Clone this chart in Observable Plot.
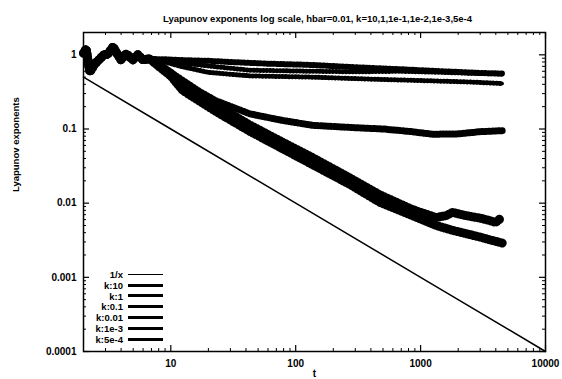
<!DOCTYPE html>
<html>
<head>
<meta charset="utf-8">
<script src="https://cdn.jsdelivr.net/npm/d3@7"></script>
<script src="https://cdn.jsdelivr.net/npm/@observablehq/plot@0.6"></script>
<style>
  html, body { margin: 0; padding: 0; background: #fff; }
  #wrap { position: relative; width: 562px; height: 379px; font-family: "Liberation Sans", Arial, Helvetica, sans-serif; }
  #legend { position: absolute; left: 86px; top: 269px; font-size: 9.5px; font-weight: bold; color: #000; }
  .row { display: flex; align-items: center; height: 10.8px; }
  .lab { width: 37px; text-align: right; }
  .sw { width: 35px; margin-left: 5px; background: #000; }
</style>
</head>
<body>
<div id="wrap"><div id="legend"></div></div>
<script>
// ---- data ----
const titleText = "Lyapunov exponents log scale, hbar=0.01, k=10,1,1e-1,1e-2,1e-3,5e-4";
const xLabel = "t";
const yLabel = "Lyapunov exponents";
const xMajor = [10, 100, 1000, 10000];
const yMajor = [0.0001, 0.001, 0.01, 0.1, 1];

// common early transient (all k)
const tEarly = [2, 2.1, 2.25, 2.47, 2.7, 2.97, 3.1, 3.45, 3.77, 3.98, 4.4, 4.97, 5.45, 5.97, 6.8];
const vEarly = [1.05, 1.2, 0.59, 0.76, 0.88, 1.03, 1.0, 1.28, 1.0, 0.86, 1.03, 0.86, 1.0, 0.86, 0.88];

const tK10 = [9, 12, 20, 30, 60, 137, 300, 680, 1500, 3000, 4500];
const vK10 = [0.87, 0.85, 0.83, 0.8, 0.76, 0.73, 0.68, 0.64, 0.6, 0.57, 0.56];

const tK1 = [9, 12, 25, 43, 137, 300, 680, 1500, 3000, 4500];
const vK1 = [0.84, 0.78, 0.68, 0.62, 0.6, 0.59, 0.6, 0.58, 0.56, 0.55];

const tK01 = [9, 12, 20, 43, 137, 400, 1000, 2500, 4500];
const vK01 = [0.8, 0.7, 0.58, 0.52, 0.5, 0.47, 0.45, 0.43, 0.41];

const tK001 = [8, 10, 12.5, 17, 23, 43, 79, 137, 270, 500, 800, 1240, 2000, 3000, 4500];
const vK001 = [0.75, 0.58, 0.45, 0.32, 0.24, 0.16, 0.13, 0.112, 0.105, 0.1, 0.093, 0.085, 0.086, 0.092, 0.095];

const tK1e3 = [8, 10, 12.5, 23, 43, 79, 137, 270, 470, 860, 1330, 1600, 1800, 2300, 2970, 3600, 4000, 4300];
const vK1e3 = [0.73, 0.56, 0.38, 0.21, 0.113, 0.066, 0.041, 0.022, 0.013, 0.0082, 0.0064, 0.0068, 0.0075, 0.0068, 0.0063, 0.0058, 0.0055, 0.0061];

const tK5e4 = [8, 10, 12.5, 23, 43, 79, 137, 270, 470, 860, 1330, 1800, 2970, 3600, 4500];
const vK5e4 = [0.7, 0.52, 0.33, 0.172, 0.093, 0.054, 0.033, 0.018, 0.0103, 0.0068, 0.005, 0.0043, 0.0035, 0.0032, 0.0029];

const tInv = [2, 10, 100, 1000, 10000];
const vInv = [0.5, 0.1, 0.01, 0.001, 0.0001];

// ---- build tables ----
const withEarly = (t, v) => ({t: tEarly.concat(t), v: vEarly.concat(v)});
const seriesData = [
  {name: "1/x", t: tInv, v: vInv, w: 1.5, fuzz: 0},
  {name: "k:10", ...withEarly(tK10, vK10), w: 4, fuzz: 6},
  {name: "k:1", ...withEarly(tK1, vK1), w: 3, fuzz: 5},
  {name: "k:0.1", ...withEarly(tK01, vK01), w: 3.5, fuzz: 5},
  {name: "k:0.01", ...withEarly(tK001, vK001), w: 4.5, fuzz: 7},
  {name: "k:1e-3", ...withEarly(tK1e3, vK1e3), w: 5, fuzz: 9},
  {name: "k:5e-4", ...withEarly(tK5e4, vK5e4), w: 5, fuzz: 9}
];
const rowsOf = s => s.t.map((t, i) => ({t, v: s.v[i]}));

// minor ticks (log 2..9 per decade)
const xMinor = [], yMinor = [];
for (const d of [1, 10, 100, 1000]) for (let m = 2; m <= 9; m++) { const x = d * m; if (x >= 2 && x <= 10000) xMinor.push(x); }
for (const d of [0.0001, 0.001, 0.01, 0.1, 1]) for (let m = 2; m <= 9; m++) { const y = d * m; if (y <= 2) yMinor.push(y); }

const W = 562, H = 379, mL = 83, mR = 17, mT = 32, mB = 28;
const iw = W - mL - mR, ih = H - mT - mB;

const marks = [
  Plot.frame({strokeWidth: 1.5, stroke: "#000"}),
  Plot.tickY(yMajor, {y: d => d, insetRight: iw - 6, strokeWidth: 1.2}),
  Plot.tickY(yMajor, {y: d => d, insetLeft: iw - 6, strokeWidth: 1.2}),
  Plot.tickY(yMinor, {y: d => d, insetRight: iw - 3}),
  Plot.tickY(yMinor, {y: d => d, insetLeft: iw - 3}),
  Plot.tickX(xMajor, {x: d => d, insetBottom: ih - 6, strokeWidth: 1.2}),
  Plot.tickX(xMajor, {x: d => d, insetTop: ih - 6, strokeWidth: 1.2}),
  Plot.tickX(xMinor, {x: d => d, insetBottom: ih - 3}),
  Plot.tickX(xMinor, {x: d => d, insetTop: ih - 3}),
  Plot.axisX(xMajor, {tickSize: 0, tickPadding: 8, tickFormat: d => String(d), label: null, fontSize: 10, fontWeight: "bold", fill: "#000"}),
  Plot.axisY(yMajor, {tickSize: 0, tickPadding: 7, tickFormat: d => String(d), label: null, fontSize: 10, fontWeight: "bold", fill: "#000"}),
  Plot.text([titleText], {frameAnchor: "top", dy: -17, dx: 3, fontSize: 9.5, fontWeight: "bold", fill: "#000"}),
  Plot.text([yLabel], {frameAnchor: "left", dx: -68, rotate: -90, fontSize: 9.5, fontWeight: "bold", fill: "#000"}),
  Plot.text([xLabel], {frameAnchor: "bottom", dy: 25, fontSize: 10, fontWeight: "bold", fill: "#000"})
];
for (const s of seriesData) {
  if (s.fuzz) marks.push(Plot.line(rowsOf(s), {x: "t", y: "v", stroke: "#000", strokeWidth: s.fuzz, strokeDasharray: "0.7 2.6", strokeLinejoin: "round"}));
  marks.push(Plot.line(rowsOf(s), {x: "t", y: "v", stroke: "#000", strokeWidth: s.w, strokeLinejoin: "round", strokeLinecap: "round"}));
}

const chart = Plot.plot({
  width: W, height: H,
  marginLeft: mL, marginRight: mR, marginTop: mT, marginBottom: mB,
  style: {fontFamily: '"Liberation Sans", Arial, Helvetica, sans-serif', color: "#000", background: "#fff"},
  x: {type: "log", domain: [2, 10000], axis: null},
  y: {type: "log", domain: [0.0001, 2], axis: null},
  marks
});
const wrap = document.getElementById("wrap");
wrap.insertBefore(chart, wrap.firstChild);

// legend
const legend = document.getElementById("legend");
for (const s of seriesData) {
  const row = document.createElement("div"); row.className = "row";
  const lab = document.createElement("span"); lab.className = "lab"; lab.textContent = s.name;
  const sw = document.createElement("span"); sw.className = "sw"; sw.style.height = (s.name === "1/x" ? 1.5 : 3) + "px";
  row.appendChild(lab); row.appendChild(sw); legend.appendChild(row);
}
</script>
</body>
</html>
